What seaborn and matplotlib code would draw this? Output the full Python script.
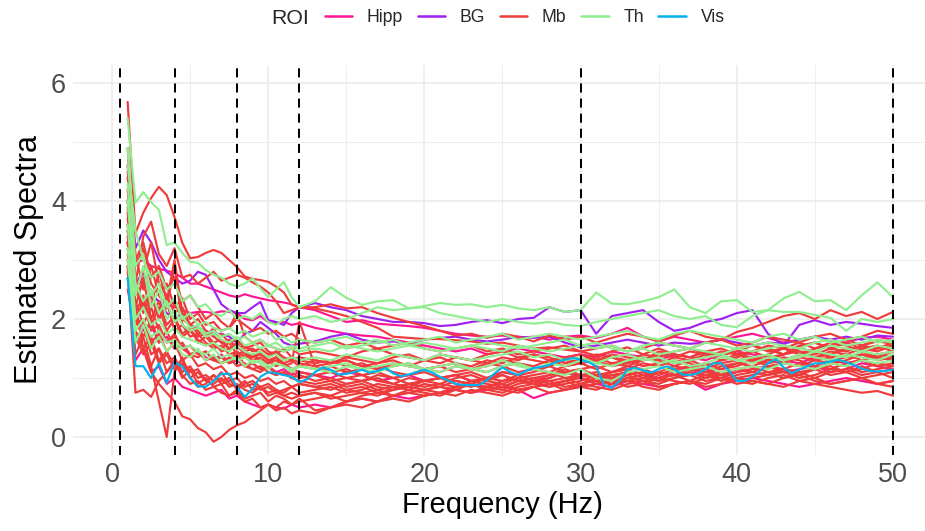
import matplotlib
matplotlib.use("Agg")
import matplotlib.pyplot as plt
from matplotlib.lines import Line2D
import pandas as pd
import seaborn as sns

# Frequency grid (Hz): half-Hz steps up to 12 Hz, then whole Hz
FREQ = [1, 1.5, 2, 2.5, 3, 3.5, 4, 4.5, 5, 5.5, 6, 6.5, 7, 7.5, 8, 8.5, 9, 9.5, 10, 10.5, 11, 11.5, 12,
        13, 14, 15, 16, 17, 18, 19, 20,
        21, 22, 23, 24, 25, 26, 27, 28, 29, 30,
        31, 32, 33, 34, 35, 36, 37, 38, 39, 40,
        41, 42, 43, 44, 45, 46, 47, 48, 49, 50]

# Visual cortex spectrum is sampled every 0.5 Hz
FREQ_VIS = [1, 1.5, 2, 2.5, 3, 3.5, 4, 4.5, 5, 5.5, 6, 6.5, 7, 7.5, 8, 8.5, 9, 9.5, 10, 10.5, 11, 11.5, 12,
            12.5, 13, 13.5, 14, 14.5, 15, 15.5, 16, 16.5, 17, 17.5, 18, 18.5, 19, 19.5, 20,
            20.5, 21, 21.5, 22, 22.5, 23, 23.5, 24, 24.5, 25, 25.5, 26, 26.5, 27, 27.5, 28, 28.5, 29, 29.5, 30,
            30.5, 31, 31.5, 32, 32.5, 33, 33.5, 34, 34.5, 35, 35.5, 36, 36.5, 37, 37.5, 38, 38.5, 39, 39.5, 40,
            40.5, 41, 41.5, 42, 42.5, 43, 43.5, 44, 44.5, 45, 45.5, 46, 46.5, 47, 47.5, 48, 48.5, 49, 49.5, 50]

# Frequency band boundaries (delta/theta/alpha/beta/gamma)
BAND_EDGES = [0.5, 4, 8, 12, 30, 50]

ROI_LEVELS = ["Hipp", "BG", "Mb", "Th", "Vis"]
ROI_COLORS = ["#FF1493", "#A020F0", "#EE3B3B", "#90EE90", "#00B2EE"]

# ---- Hippocampus ----
hipp_01 = [4.0, 2.95, 3.0, 2.9, 2.85, 2.82, 2.78, 2.7, 2.6, 2.6, 2.55, 2.5, 2.45, 2.4, 2.37, 2.42, 2.38, 2.35, 2.32, 2.3, 2.28, 2.25, 2.2,
           2.15, 2.05, 1.95, 1.98, 1.92, 1.9, 1.88, 1.85,
           1.8, 1.75, 1.72, 1.7, 1.72, 1.68, 1.7, 1.65, 1.7, 1.72,
           1.68, 1.75, 1.85, 1.7, 1.62, 1.7, 1.65, 1.6, 1.65, 1.7,
           1.75, 1.68, 1.6, 1.65, 1.7, 1.62, 1.6, 1.68, 1.7, 1.65]
hipp_02 = [3.6, 2.5, 2.7, 2.4, 2.3, 2.25, 2.2, 2.15, 2.1, 2.12, 2.12, 2.1, 2.13, 2.12, 2.1, 2.0, 1.98, 2.05, 1.95, 1.93, 1.95, 1.9, 1.93,
           1.85, 1.8, 1.75, 1.72, 1.7, 1.65, 1.6, 1.55,
           1.5, 1.45, 1.5, 1.4, 1.45, 1.5, 1.45, 1.4, 1.35, 1.4,
           1.35, 1.45, 1.4, 1.35, 1.3, 1.4, 1.35, 1.3, 1.4, 1.45,
           1.4, 1.35, 1.3, 1.25, 1.35, 1.3, 1.25, 1.3, 1.35, 1.3]
hipp_03 = [2.9, 1.3, 1.5, 1.1, 1.2, 0.9, 1.0, 0.85, 0.8, 0.75, 0.7, 0.75, 0.8, 0.65, 0.7, 0.6, 0.55, 0.5, 0.55, 0.5, 0.48, 0.55, 0.5,
           0.55, 0.5, 0.6, 0.65, 0.6, 0.7, 0.65, 0.7,
           0.75, 0.8, 0.75, 0.8, 0.85, 0.8, 0.66, 0.75, 0.8, 0.85,
           0.9, 0.85, 0.95, 0.9, 0.85, 0.9, 0.95, 0.8, 0.9, 0.95,
           1.0, 0.95, 0.9, 0.85, 0.9, 0.95, 1.0, 0.95, 0.9, 0.95]
hipp_04 = [3.3, 2.1, 1.8, 1.9, 1.6, 1.7, 1.5, 1.55, 1.4, 1.45, 1.35, 1.3, 1.4, 1.25, 1.3, 1.2, 1.25, 1.15, 1.2, 1.1, 1.15, 1.05, 1.1,
           1.05, 1.0, 1.1, 1.05, 0.95, 1.0, 1.05, 0.95,
           1.0, 1.05, 0.95, 1.0, 1.1, 1.05, 0.95, 1.0, 1.1, 1.05,
           1.0, 1.1, 1.15, 1.05, 1.0, 1.1, 1.2, 1.15, 1.05, 1.1,
           1.15, 1.2, 1.1, 1.15, 1.2, 1.1, 1.15, 1.25, 1.2, 1.15]

# ---- Basal ganglia ----
bg_01 = [4.6, 3.2, 3.5, 3.3, 3.0, 2.8, 2.7, 2.6, 2.65, 2.8, 2.75, 2.5, 2.25, 2.15, 2.1, 2.1, 2.2, 2.29, 1.98, 1.95, 1.9, 2.1, 2.2,
         2.27, 2.2, 2.15, 2.05, 2.0, 1.95, 1.95, 1.93,
         1.88, 1.9, 1.95, 1.98, 1.93, 2.0, 2.02, 2.2, 2.12, 2.15,
         1.75, 2.05, 2.1, 2.15, 1.95, 1.8, 1.85, 1.95, 2.0, 2.1,
         2.15, 1.75, 1.55, 1.9, 1.98, 1.9, 1.95, 1.92, 1.88, 1.85]
bg_02 = [3.5, 2.6, 2.8, 2.4, 2.3, 2.1, 2.0, 2.1, 1.9, 1.85, 1.8, 1.75, 1.75, 1.7, 1.6, 1.75, 1.8, 1.95, 1.85, 1.75, 1.6, 1.55, 1.58,
         1.62, 1.7, 1.75, 1.65, 1.6, 1.62, 1.58, 1.65,
         1.68, 1.7, 1.65, 1.62, 1.65, 1.7, 1.68, 1.7, 1.6, 1.52,
         1.55, 1.6, 1.65, 1.6, 1.55, 1.6, 1.58, 1.6, 1.65, 1.6,
         1.55, 1.6, 1.58, 1.65, 1.7, 1.65, 1.7, 1.65, 1.72, 1.7]

# ---- Midbrain ----
mb_01 = [5.68, 3.45, 3.8, 4.05, 4.24, 4.1, 3.73, 3.29, 3.03, 3.05, 3.12, 3.17, 3.12, 3.0, 2.88, 2.72, 2.68, 2.66, 2.63, 2.55, 2.45, 2.24, 2.2,
         2.18, 2.12, 2.05, 1.95, 1.85, 1.7, 1.68, 1.66,
         1.66, 1.64, 1.62, 1.58, 1.6, 1.55, 1.5, 1.52, 1.48, 1.45,
         1.38, 1.45, 1.52, 1.4, 1.35, 1.45, 1.5, 1.42, 1.38, 1.45,
         1.55, 1.48, 1.4, 1.52, 1.6, 1.5, 1.45, 1.55, 1.62, 1.58]
mb_02 = [4.9, 2.6, 3.4, 3.65, 3.1, 2.9, 3.2, 2.7, 2.75, 2.6, 2.7, 2.8, 2.65, 2.7, 2.75, 2.7, 2.62, 2.55, 2.45, 2.3, 2.1, 2.15, 2.2,
         2.2, 2.25, 2.18, 2.2, 2.1, 2.02, 1.95, 1.88,
         1.8, 1.72, 1.75, 1.68, 1.75, 1.7, 1.62, 1.72, 1.65, 1.7,
         1.6, 1.68, 1.75, 1.7, 1.62, 1.72, 1.8, 1.7, 1.65, 1.78,
         1.85, 1.95, 2.05, 2.1, 2.0, 2.15, 2.05, 2.12, 2.0, 2.12]
mb_03 = [3.6, 2.2, 1.5, 1.2, 0.6, 0.0, 1.1, 1.35, 1.0, 0.85, 0.9, 1.05, 0.95, 1.0, 0.8, 0.9, 0.95, 0.85, 0.9, 0.8, 0.75, 0.85, 0.9,
         0.85, 0.8, 0.9, 0.95, 0.85, 0.8, 0.9, 0.95,
         1.0, 0.9, 0.85, 0.95, 1.05, 0.95, 0.9, 1.0, 1.1, 1.0,
         0.95, 1.05, 1.1, 1.0, 0.95, 1.1, 1.15, 1.05, 1.0, 1.1,
         1.15, 1.2, 1.1, 1.05, 1.15, 1.25, 1.2, 1.1, 1.15, 1.2]
mb_04 = [3.3, 1.8, 1.5, 1.1, 0.9, 0.75, 0.6, 0.35, 0.3, 0.15, 0.08, -0.08, 0.0, 0.12, 0.2, 0.25, 0.35, 0.45, 0.55, 0.5, 0.6, 0.55, 0.65,
         0.45, 0.5, 0.6, 0.65, 0.6, 0.7, 0.75, 0.7,
         0.75, 0.85, 0.9, 0.8, 0.75, 0.85, 0.9, 0.95, 0.85, 0.9,
         0.95, 0.9, 1.0, 0.95, 0.9, 1.0, 1.05, 0.95, 1.0, 0.9,
         0.95, 0.9, 0.85, 0.95, 0.9, 0.85, 0.8, 0.75, 0.78, 0.7]
mb_05 = [2.9, 0.75, 0.8, 0.68, 0.95, 1.1, 1.25, 1.05, 0.9, 0.95, 0.8, 0.85, 0.75, 0.7, 0.8, 0.65, 0.7, 0.75, 0.6, 0.7, 0.65, 0.55, 0.6,
         0.65, 0.7, 0.6, 0.7, 0.75, 0.7, 0.8, 0.75,
         0.7, 0.8, 0.75, 0.85, 0.8, 0.75, 0.85, 0.9, 0.95, 0.85,
         0.8, 0.9, 0.95, 0.85, 0.8, 0.9, 0.95, 0.85, 0.9, 1.0,
         0.95, 0.9, 1.0, 1.05, 0.95, 0.9, 0.95, 1.0, 0.9, 0.95]
mb_06 = [4.4, 2.9, 3.2, 2.6, 2.4, 2.2, 2.3, 2.0, 1.9, 1.75, 1.8, 1.7, 1.6, 1.65, 1.5, 1.55, 1.45, 1.5, 1.4, 1.45, 1.35, 1.3, 1.35,
         1.3, 1.25, 1.3, 1.2, 1.25, 1.3, 1.2, 1.15,
         1.2, 1.25, 1.15, 1.2, 1.3, 1.25, 1.2, 1.3, 1.35, 1.25,
         1.3, 1.4, 1.35, 1.3, 1.45, 1.4, 1.35, 1.45, 1.5, 1.4,
         1.45, 1.55, 1.5, 1.4, 1.5, 1.6, 1.55, 1.45, 1.5, 1.55]
mb_07 = [3.8, 2.4, 2.6, 2.2, 2.8, 2.3, 3.0, 2.1, 1.9, 1.8, 1.7, 1.85, 1.6, 1.5, 1.55, 1.4, 1.35, 1.45, 1.3, 1.2, 1.25, 1.15, 1.1,
         1.05, 1.1, 1.0, 0.95, 1.05, 1.0, 0.9, 0.95,
         1.0, 1.05, 0.95, 1.0, 1.1, 1.05, 0.95, 1.05, 1.1, 1.15,
         1.05, 1.1, 1.2, 1.15, 1.05, 1.15, 1.2, 1.25, 1.15, 1.2,
         1.3, 1.25, 1.35, 1.3, 1.2, 1.3, 1.35, 1.4, 1.3, 1.35]
mb_08 = [3.2, 2.0, 2.3, 1.8, 1.9, 1.6, 1.7, 1.5, 1.55, 1.4, 1.45, 1.3, 1.35, 1.25, 1.4, 1.2, 1.15, 1.2, 1.1, 1.05, 1.1, 1.0, 0.95,
         0.9, 0.95, 0.85, 0.9, 0.8, 0.85, 0.9, 0.85,
         0.9, 0.85, 0.95, 0.9, 0.85, 0.95, 1.0, 0.9, 0.95, 1.05,
         1.0, 0.95, 1.05, 1.1, 1.0, 1.05, 1.1, 1.0, 1.1, 1.15,
         1.1, 1.2, 1.15, 1.05, 1.15, 1.2, 1.1, 1.15, 1.25, 1.2]
mb_09 = [4.6, 3.1, 2.5, 2.9, 2.4, 2.6, 2.2, 2.35, 2.0, 2.1, 1.9, 1.95, 1.8, 1.85, 2.1, 1.7, 1.6, 1.65, 1.55, 1.5, 1.45, 1.5, 1.4,
         1.45, 1.4, 1.35, 1.45, 1.5, 1.4, 1.35, 1.3,
         1.4, 1.35, 1.3, 1.4, 1.45, 1.35, 1.3, 1.25, 1.35, 1.4,
         1.3, 1.35, 1.25, 1.3, 1.4, 1.35, 1.45, 1.4, 1.3, 1.35,
         1.45, 1.5, 1.4, 1.55, 1.6, 1.5, 1.45, 1.55, 1.65, 1.6]
mb_10 = [2.7, 1.6, 1.9, 1.4, 1.5, 1.25, 1.35, 1.1, 1.2, 1.0, 1.05, 0.95, 1.1, 0.9, 0.85, 0.95, 0.8, 0.85, 0.75, 0.8, 0.7, 0.75, 0.7,
         0.75, 0.7, 0.8, 0.75, 0.7, 0.8, 0.85, 0.8,
         0.75, 0.85, 0.9, 0.8, 0.85, 0.95, 0.9, 0.85, 0.95, 1.0,
         0.9, 1.0, 1.05, 0.95, 1.0, 1.05, 0.95, 1.05, 1.1, 1.0,
         1.05, 1.1, 1.0, 1.1, 1.15, 1.05, 1.1, 1.2, 1.1, 1.15]
mb_11 = [4.2, 2.5, 2.8, 3.3, 2.6, 2.4, 2.1, 2.2, 1.9, 2.0, 1.8, 1.7, 1.75, 1.6, 1.65, 1.5, 1.55, 1.6, 1.45, 1.4, 1.5, 1.35, 1.3,
         1.25, 1.3, 1.2, 1.25, 1.15, 1.2, 1.25, 1.15,
         1.1, 1.2, 1.15, 1.1, 1.2, 1.25, 1.15, 1.1, 1.2, 1.25,
         1.35, 1.25, 1.2, 1.3, 1.35, 1.25, 1.3, 1.4, 1.3, 1.35,
         1.45, 1.35, 1.4, 1.5, 1.45, 1.35, 1.4, 1.5, 1.55, 1.45]
mb_12 = [3.0, 1.4, 1.7, 1.2, 1.5, 1.1, 1.3, 1.0, 1.15, 0.9, 1.0, 0.85, 0.9, 0.7, 0.75, 0.6, 0.65, 0.5, 0.55, 0.45, 0.5, 0.4, 0.45,
         0.4, 0.5, 0.55, 0.5, 0.6, 0.65, 0.6, 0.7,
         0.75, 0.7, 0.8, 0.75, 0.7, 0.8, 0.85, 0.75, 0.8, 0.9,
         0.85, 0.8, 0.9, 0.95, 0.85, 0.9, 0.95, 0.9, 1.0, 0.95,
         0.9, 1.0, 1.05, 0.95, 1.0, 0.9, 0.95, 1.0, 0.9, 0.85]
mb_13 = [3.5, 2.1, 2.4, 1.9, 2.2, 1.8, 2.0, 1.7, 1.8, 1.65, 1.55, 1.6, 1.45, 1.5, 1.6, 1.4, 1.3, 1.35, 1.25, 1.3, 1.2, 1.25, 1.95,
         1.2, 1.1, 1.15, 1.05, 1.1, 1.0, 1.05, 1.1,
         1.0, 1.05, 1.1, 1.0, 0.95, 1.05, 1.1, 1.2, 1.1, 1.15,
         1.2, 1.1, 1.15, 1.25, 1.2, 1.3, 1.25, 1.15, 1.25, 1.3,
         1.35, 1.25, 1.3, 1.4, 1.35, 1.45, 1.4, 1.3, 1.4, 1.45]
mb_14 = [4.0, 2.7, 2.2, 2.5, 2.0, 2.3, 1.8, 1.9, 1.7, 1.75, 1.6, 1.5, 1.55, 1.4, 1.45, 1.35, 1.4, 1.3, 1.25, 1.35, 1.2, 1.15, 1.2,
         1.15, 1.2, 1.1, 1.15, 1.2, 1.1, 1.05, 1.15,
         1.2, 1.1, 1.15, 1.25, 1.2, 1.1, 1.15, 1.2, 1.3, 1.25,
         1.15, 1.25, 1.3, 1.2, 1.25, 1.35, 1.3, 1.2, 1.3, 1.4,
         1.35, 1.3, 1.4, 1.45, 1.35, 1.4, 1.5, 1.45, 1.35, 1.45]
mb_15 = [2.5, 1.8, 1.5, 1.7, 1.3, 1.45, 1.2, 1.3, 1.1, 1.15, 0.95, 1.05, 0.9, 0.95, 1.0, 0.85, 0.9, 0.8, 0.85, 0.75, 0.8, 0.85, 0.75,
         0.8, 0.85, 0.75, 0.8, 0.9, 0.85, 0.8, 0.9,
         0.85, 0.95, 0.9, 0.85, 0.95, 1.0, 0.9, 0.95, 1.0, 0.9,
         1.0, 1.05, 0.95, 1.0, 1.1, 1.05, 1.15, 1.1, 1.05, 1.15,
         1.2, 1.1, 1.15, 1.25, 1.2, 1.15, 1.25, 1.3, 1.2, 1.25]
mb_16 = [3.4, 2.3, 1.9, 2.2, 1.8, 1.6, 1.75, 1.5, 1.4, 1.45, 1.3, 1.35, 1.25, 1.3, 1.45, 1.2, 1.25, 1.15, 1.2, 1.1, 1.05, 1.1, 1.0,
         1.05, 0.95, 1.0, 1.05, 0.95, 0.9, 1.0, 0.95,
         0.9, 1.0, 1.05, 0.95, 0.9, 1.0, 1.05, 1.1, 1.0, 1.05,
         1.1, 1.0, 1.1, 1.15, 1.05, 1.15, 1.2, 1.1, 1.15, 1.25,
         1.3, 1.2, 1.25, 1.35, 1.3, 1.25, 1.3, 1.4, 1.35, 1.3]
mb_17 = [4.5, 3.0, 3.3, 2.7, 2.9, 2.5, 2.7, 2.3, 2.4, 2.2, 2.0, 2.1, 1.95, 1.85, 2.0, 1.9, 1.8, 1.85, 1.75, 1.8, 1.7, 1.75, 1.65,
         1.6, 1.65, 1.55, 1.6, 1.5, 1.55, 1.6, 1.5,
         1.45, 1.5, 1.55, 1.45, 1.5, 1.4, 1.45, 1.5, 1.55, 1.45,
         1.5, 1.55, 1.45, 1.5, 1.6, 1.55, 1.5, 1.6, 1.65, 1.55,
         1.6, 1.7, 1.65, 1.6, 1.7, 1.75, 1.65, 1.7, 1.8, 1.75]
mb_18 = [3.1, 1.9, 2.0, 1.6, 1.75, 1.45, 1.6, 1.3, 1.4, 1.2, 1.25, 1.15, 1.2, 1.05, 1.1, 1.0, 1.05, 0.95, 1.0, 0.9, 0.95, 0.85, 0.9,
         0.85, 0.9, 0.8, 0.85, 0.75, 0.8, 0.85, 0.8,
         0.85, 0.8, 0.75, 0.85, 0.9, 0.8, 0.85, 0.9, 0.8, 0.85,
         0.9, 0.95, 0.85, 0.9, 1.0, 0.95, 0.9, 1.0, 1.05, 0.95,
         1.0, 1.05, 1.1, 1.0, 1.05, 1.15, 1.1, 1.0, 1.05, 1.1]
mb_19 = [3.9, 2.2, 2.7, 2.0, 2.3, 1.9, 2.05, 1.75, 1.85, 1.6, 1.7, 1.55, 1.5, 1.6, 1.4, 1.45, 1.35, 1.4, 1.3, 1.35, 1.25, 1.3, 1.2,
         1.3, 1.25, 1.35, 1.3, 1.25, 1.35, 1.4, 1.3,
         1.25, 1.35, 1.3, 1.25, 1.35, 1.3, 1.4, 1.35, 1.25, 1.3,
         1.4, 1.35, 1.3, 1.4, 1.5, 1.4, 1.35, 1.45, 1.4, 1.5,
         1.55, 1.45, 1.5, 1.6, 1.5, 1.55, 1.65, 1.55, 1.5, 1.6]
mb_20 = [2.8, 1.7, 1.4, 1.6, 1.25, 1.4, 1.15, 1.25, 1.0, 1.1, 0.95, 0.9, 1.0, 0.85, 0.9, 0.8, 0.75, 0.85, 0.7, 0.75, 0.7, 0.65, 0.7,
         0.75, 0.65, 0.7, 0.75, 0.8, 0.7, 0.75, 0.8,
         0.85, 0.8, 0.9, 0.85, 0.8, 0.9, 0.95, 0.85, 0.9, 0.95,
         1.05, 0.95, 1.0, 1.05, 0.95, 1.0, 1.1, 1.05, 0.95, 1.05,
         1.1, 1.05, 1.15, 1.1, 1.0, 1.1, 1.15, 1.05, 1.1, 1.0]
mb_21 = [3.7, 2.6, 2.1, 2.4, 2.0, 2.2, 2.9, 1.9, 1.8, 1.7, 1.75, 1.6, 1.65, 1.5, 1.55, 1.45, 1.5, 1.4, 1.35, 1.45, 1.3, 1.35, 1.25,
         1.2, 1.25, 1.3, 1.2, 1.15, 1.25, 1.2, 1.3,
         1.35, 1.25, 1.2, 1.3, 1.25, 1.35, 1.4, 1.3, 1.2, 1.25,
         1.3, 1.2, 1.25, 1.35, 1.3, 1.2, 1.3, 1.35, 1.45, 1.4,
         1.3, 1.4, 1.5, 1.45, 1.4, 1.5, 1.6, 1.5, 1.45, 1.55]
mb_22 = [3.3, 2.0, 1.7, 2.0, 1.6, 1.8, 1.5, 1.6, 1.4, 1.35, 1.45, 1.3, 1.25, 1.35, 1.2, 1.25, 1.15, 1.1, 1.2, 1.05, 1.1, 1.0, 1.05,
         0.95, 1.0, 0.9, 0.95, 1.0, 0.9, 0.85, 0.95,
         1.0, 0.95, 0.9, 1.0, 1.05, 0.95, 1.0, 1.05, 1.15, 1.05,
         1.0, 1.1, 1.15, 1.05, 1.1, 1.2, 1.15, 1.1, 1.2, 1.25,
         1.2, 1.3, 1.25, 1.2, 1.3, 1.35, 1.25, 1.3, 1.4, 1.35]

# ---- Thalamus ----
th_01 = [5.4, 3.97, 4.15, 3.98, 3.85, 3.25, 3.3, 3.12, 2.97, 2.95, 2.83, 2.75, 2.7, 2.6, 2.55, 2.6, 2.69, 2.52, 2.37, 2.5, 2.63, 2.37, 2.2,
         2.3, 2.54, 2.36, 2.24, 2.3, 2.32, 2.18, 2.22,
         2.27, 2.24, 2.25, 2.2, 2.24, 2.18, 2.15, 2.2, 2.12, 2.15,
         2.45, 2.26, 2.25, 2.3, 2.37, 2.5, 2.2, 2.1, 2.3, 2.32,
         2.12, 2.15, 2.35, 2.46, 2.3, 2.32, 2.15, 2.4, 2.62, 2.37]
th_02 = [4.6, 3.5, 3.0, 2.7, 2.8, 2.5, 2.6, 2.3, 2.4, 2.2, 2.25, 2.1, 2.05, 2.15, 2.0, 2.05, 2.0, 2.1, 1.95, 1.9, 2.0, 2.05, 2.0,
         2.05, 1.95, 2.0, 2.1, 2.2, 2.15, 2.18, 2.2,
         2.1, 2.05, 2.0, 1.95, 2.0, 1.95, 1.92, 1.95, 1.9, 1.88,
         1.95, 2.0, 2.05, 2.1, 2.15, 2.05, 2.0, 2.05, 1.9, 1.86,
         2.05, 2.15, 2.12, 2.12, 2.07, 2.02, 1.8, 2.0, 1.95, 2.0]
th_03 = [4.0, 2.4, 2.9, 2.2, 2.5, 2.0, 2.15, 1.9, 1.8, 1.85, 1.7, 1.75, 1.65, 1.6, 1.7, 1.55, 1.6, 1.5, 1.55, 1.5, 1.45, 1.5, 1.45,
         1.5, 1.45, 1.55, 1.5, 1.45, 1.5, 1.55, 1.5,
         1.45, 1.5, 1.55, 1.5, 1.45, 1.55, 1.5, 1.45, 1.5, 1.55,
         1.6, 1.5, 1.45, 1.55, 1.6, 1.55, 1.5, 1.6, 1.55, 1.5,
         1.55, 1.6, 1.55, 1.5, 1.6, 1.65, 1.55, 1.6, 1.65, 1.6]
th_04 = [3.6, 2.0, 2.2, 1.9, 2.0, 1.75, 1.85, 1.7, 1.65, 1.6, 1.55, 1.6, 1.5, 1.45, 1.55, 1.45, 1.4, 1.45, 1.35, 1.4, 1.3, 1.35, 1.3,
         1.35, 1.3, 1.4, 1.35, 1.3, 1.4, 1.35, 1.3,
         1.4, 1.35, 1.3, 1.35, 1.4, 1.45, 1.35, 1.4, 1.3, 1.35,
         1.25, 1.35, 1.4, 1.3, 1.35, 1.25, 1.3, 1.35, 1.4, 1.3,
         1.35, 1.4, 1.3, 1.35, 1.45, 1.4, 1.35, 1.45, 1.4, 1.45]
th_05 = [4.3, 2.6, 2.3, 2.5, 2.1, 2.3, 1.95, 2.05, 1.85, 1.9, 1.75, 1.8, 1.7, 1.75, 1.65, 1.7, 1.6, 1.65, 1.55, 1.6, 1.5, 1.55, 1.5,
         1.55, 1.6, 1.5, 1.55, 1.6, 1.65, 1.55, 1.6,
         1.55, 1.5, 1.55, 1.6, 1.55, 1.5, 1.55, 1.6, 1.65, 1.55,
         1.5, 1.55, 1.45, 1.5, 1.4, 1.45, 1.5, 1.45, 1.4, 1.5,
         1.45, 1.5, 1.55, 1.5, 1.45, 1.55, 1.5, 1.45, 1.55, 1.5]
th_06 = [3.2, 1.8, 2.0, 1.7, 1.8, 1.6, 1.65, 1.5, 1.55, 1.45, 1.4, 1.5, 1.35, 1.4, 1.3, 1.35, 1.25, 1.3, 1.2, 1.25, 1.2, 1.15, 1.2,
         1.15, 1.2, 1.25, 1.15, 1.2, 1.25, 1.2, 1.15,
         1.1, 1.2, 1.15, 1.1, 1.2, 1.25, 1.15, 1.1, 1.05, 1.15,
         1.0, 0.95, 1.1, 1.15, 1.2, 1.1, 1.15, 1.2, 1.1, 1.15,
         1.2, 1.15, 1.25, 1.2, 1.15, 1.25, 1.2, 1.3, 1.25, 1.3]
th_07 = [4.9, 2.9, 3.1, 2.4, 2.6, 2.2, 2.35, 2.0, 2.1, 1.9, 1.95, 1.85, 1.8, 1.85, 1.75, 1.8, 1.7, 1.75, 1.8, 1.65, 1.7, 1.6, 1.65,
         1.6, 1.65, 1.7, 1.6, 1.65, 1.55, 1.6, 1.65,
         1.7, 1.6, 1.65, 1.7, 1.75, 1.65, 1.7, 1.75, 1.7, 1.65,
         1.7, 1.75, 1.8, 1.7, 1.65, 1.75, 1.8, 1.75, 1.7, 1.65,
         1.6, 1.7, 1.75, 1.65, 1.7, 1.6, 1.65, 1.7, 1.6, 1.65]
th_08 = [3.0, 1.6, 1.9, 1.5, 1.7, 1.45, 1.6, 1.4, 1.35, 1.5, 1.3, 1.4, 1.25, 1.3, 1.35, 1.2, 1.3, 1.25, 1.15, 1.25, 1.2, 1.1, 1.2,
         1.15, 1.1, 1.2, 1.15, 1.1, 1.2, 1.25, 1.15,
         1.2, 1.25, 1.15, 1.2, 1.3, 1.2, 1.15, 1.25, 1.2, 1.3,
         1.25, 1.2, 1.3, 1.35, 1.25, 1.3, 1.2, 1.25, 1.35, 1.3,
         1.25, 1.35, 1.3, 1.4, 1.35, 1.3, 1.4, 1.35, 1.3, 1.4]

# ---- Visual cortex ----
vis_01 = [2.7, 1.2, 1.2, 1.0, 1.25, 0.92, 1.27, 1.19, 1.0, 0.86, 0.85, 0.95, 1.07, 1.07, 0.85, 0.68, 0.82, 1.02, 1.10, 1.08, 1.05, 1.02, 0.93,
          0.98, 1.1, 1.18, 1.14, 1.06, 1.07, 1.1, 1.14, 1.09, 1.12, 1.17, 1.08, 1.03, 1.06, 1.1, 1.14,
          1.09, 1.02, 0.96, 0.9, 0.88, 0.88, 0.88, 0.96, 1.08, 1.18, 1.1, 1.05, 1.12, 1.17, 1.19, 1.22, 1.28, 1.31, 1.34, 1.31,
          1.27, 1.2, 0.88, 0.83, 0.95, 1.15, 1.17, 1.13, 1.09, 1.15, 1.2, 1.15, 1.06, 1.05, 1.08, 1.15, 1.25, 1.25, 1.12, 0.95,
          0.95, 1.02, 1.12, 1.25, 1.32, 1.18, 1.08, 1.14, 1.2, 1.25, 1.25, 1.28, 1.31, 1.27, 1.22, 1.16, 1.12, 1.11, 1.12, 1.14]

CURVES = [
    ("Hipp", hipp_01), ("Hipp", hipp_02), ("Hipp", hipp_03), ("Hipp", hipp_04),
    ("BG", bg_01), ("BG", bg_02),
    ("Mb", mb_01), ("Mb", mb_02), ("Mb", mb_03), ("Mb", mb_04), ("Mb", mb_05), ("Mb", mb_06),
    ("Mb", mb_07), ("Mb", mb_08), ("Mb", mb_09), ("Mb", mb_10), ("Mb", mb_11), ("Mb", mb_12),
    ("Mb", mb_13), ("Mb", mb_14), ("Mb", mb_15), ("Mb", mb_16), ("Mb", mb_17), ("Mb", mb_18),
    ("Mb", mb_19), ("Mb", mb_20), ("Mb", mb_21), ("Mb", mb_22),
    ("Th", th_01), ("Th", th_02), ("Th", th_03), ("Th", th_04), ("Th", th_05), ("Th", th_06),
    ("Th", th_07), ("Th", th_08),
    ("Vis", vis_01),
]

frames = []
for idx, (roi, values) in enumerate(CURVES):
    freq = FREQ_VIS if roi == "Vis" else FREQ
    frames.append(pd.DataFrame({"freq": freq, "spec": values, "roi": roi, "curve": idx}))
df = pd.concat(frames, ignore_index=True)

sns.set_theme(style="white")
plt.rcParams["font.family"] = ["Liberation Sans", "DejaVu Sans"]

W, H = 925, 531
fig = plt.figure(figsize=(W / 100, H / 100), dpi=100)
# panel runs from x=-2.5 to 52.5 Hz; its right edge sits just past the canvas edge
ax = fig.add_axes([73 / W, 1 - 455 / H, (932 - 73) / W, (455 - 65) / H])

palette = dict(zip(ROI_LEVELS, ROI_COLORS))
sns.lineplot(data=df, x="freq", y="spec", hue="roi", hue_order=ROI_LEVELS,
             palette=palette, units="curve", estimator=None, sort=False,
             linewidth=1.55, legend=False, ax=ax)

for edge in BAND_EDGES:
    ax.axvline(edge, color="black", linestyle=(0, (4.5, 3)), linewidth=1.45, zorder=5)

ax.set_xlim(-2.5, 52.5)
ax.set_ylim(-0.305, 6.305)
ax.set_xticks([0, 10, 20, 30, 40, 50])
ax.set_xticks([5, 15, 25, 35, 45], minor=True)
ax.set_yticks([0, 2, 4, 6])
ax.set_yticks([1, 3, 5], minor=True)
ax.set_axisbelow(True)
ax.grid(which="major", color="#EBEBEB", linewidth=1.2)
ax.grid(which="minor", color="#EBEBEB", linewidth=0.6)
for spine in ax.spines.values():
    spine.set_visible(False)
ax.tick_params(which="both", length=0, labelsize=19.5, labelcolor="#4D4D4D", pad=5)

ax.set_xlabel("Frequency (Hz)", fontsize=21, color="black", labelpad=2)
ax.set_ylabel("Estimated Spectra", fontsize=22, color="black", labelpad=5)

handles = [Line2D([], [], color=c, linewidth=1.8) for c in ROI_COLORS]
fig.text(271 / W, 1 - 18 / H, "ROI", fontsize=15.3, ha="left", va="center")
fig.legend(handles, ROI_LEVELS, loc="center left", bbox_to_anchor=(325 / W, 1 - 18 / H),
           ncol=5, frameon=False, fontsize=12.7, handlelength=1.55, handletextpad=0.83,
           columnspacing=0.83, borderpad=0, borderaxespad=0)

fig.savefig("out.png", dpi=100)
